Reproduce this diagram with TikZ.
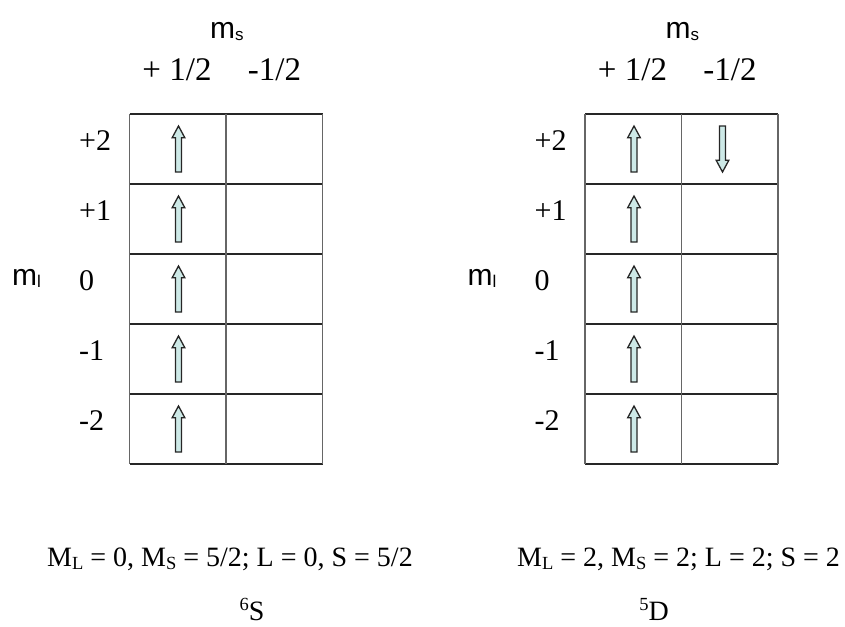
\documentclass[tikz,border=0pt]{standalone}
\usepackage{fontspec}
\setmainfont{Liberation Serif}
\newfontfamily\sansf{Liberation Sans}
\definecolor{arrowfill}{HTML}{CDE9E7}
\newcommand\lowpart[3]{\raisebox{-#1}{\fontsize{#2}{#2}\selectfont #3}}
\newcommand\highpart[3]{\raisebox{#1}{\fontsize{#2}{#2}\selectfont #3}}
\tikzset{
  hline/.style={line width=1.8pt, draw=black!85},
  vline/.style={line width=1.4pt, draw=black!60},
  numlab/.style={font=\fontsize{30}{34}\selectfont, inner sep=0pt, anchor=base west},
  hdrlab/.style={font=\fontsize{33}{38}\selectfont, inner sep=0pt, anchor=base},
  symlab/.style={font=\sansf\fontsize{30}{34}\selectfont, inner sep=0pt, anchor=base west},
  botlab/.style={font=\fontsize{28}{32}\selectfont, inner sep=0pt, anchor=base west},
  spinbox/.style={fill=arrowfill, draw=black!85, line width=1.3pt, line join=miter},
  spinup/.pic={\path[spinbox] (0,-23) -- (6.3,-11.3) -- (3,-11.3) -- (3,23) -- (-3,23) -- (-3,-11.3) -- (-6.3,-11.3) -- cycle;},
  spindown/.pic={\path[spinbox] (0,23) -- (6.3,11.3) -- (3,11.3) -- (3,-23) -- (-3,-23) -- (-3,11.3) -- (-6.3,11.3) -- cycle;},
}
\begin{document}
\begin{tikzpicture}[x=1pt,y=-1pt]
\useasboundingbox (0,0) rectangle (845,626);
\def\rh{70}
\foreach \ox/\g in {0/L,455.5/R} {
  \foreach \i in {0,...,5} \draw[hline] (129.5+\ox,114+\rh*\i) -- (322.5+\ox,114+\rh*\i);
  \foreach \xx in {129.5,226,322.5} \draw[vline] (\xx+\ox,114) -- (\xx+\ox,114+5*\rh);
  \foreach \k in {0,...,4} \pic at (178.5+\ox,114+\rh*\k+\rh/2) {spinup};
  \node[symlab] (ms\g) at (210+\ox,38) {m\lowpart{2pt}{17}{s}};
  \node[hdrlab] (ph\g) at (177+\ox,80) {+ 1/2};
  \node[hdrlab] (mh\g) at (274.5+\ox,80) {-1/2};
  \node[symlab] (ml\g) at (12+\ox,285) {m\lowpart{2pt}{17}{l}};
  \foreach \t [count=\k from 0] in {+2,+1,0,-1,-2}
    \node[numlab] (r\g\k) at (79+\ox,114+\rh*\k+\rh/2+1) {\t};
}
\pic at (722.5,114+\rh/2) {spindown};
\node[botlab] (eqL) at (47,566) {M\lowpart{3pt}{18.5}{L} = 0, M\lowpart{3pt}{18.5}{S} = 5/2; L = 0, S = 5/2};
\node[botlab, anchor=base] (tsL) at (252,620) {\highpart{10pt}{18.5}{6}S};
\node[botlab] (eqR) at (517,566) {M\lowpart{3pt}{18.5}{L} = 2, M\lowpart{3pt}{18.5}{S} = 2; L = 2; S = 2};
\node[botlab, anchor=base] (tsR) at (654,620) {\highpart{10pt}{18.5}{5}D};
\end{tikzpicture}
\end{document}
